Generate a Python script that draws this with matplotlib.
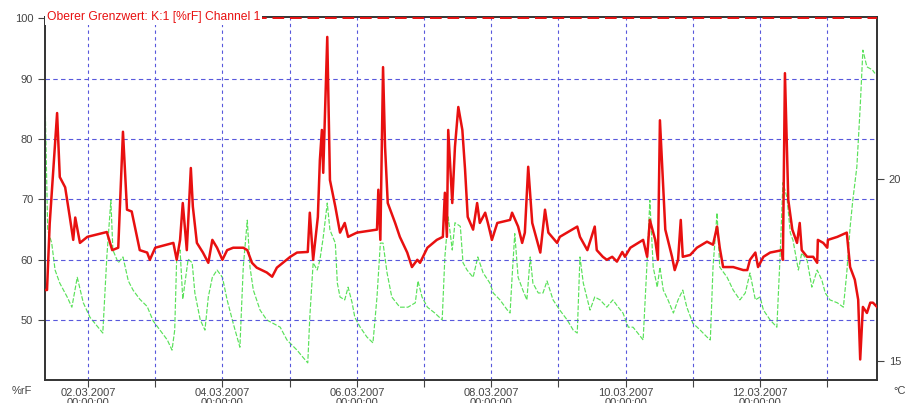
import matplotlib
matplotlib.use('Agg')
import matplotlib.pyplot as plt
import matplotlib.dates as mdates
import numpy as np
import pandas as pd

plt.rcParams['font.family'] = ['Liberation Sans', 'DejaVu Sans']
plt.rcParams['axes.grid'] = False

start = pd.Timestamp('2007-03-01')

# relative humidity, channel 1 (days since 01.03.2007, %rF)
rh_days = [0.36, 0.39, 0.43, 0.54, 0.58, 0.66, 0.73, 0.78, 0.81, 0.88, 0.99, 1.28,
           1.36, 1.45, 1.52, 1.58, 1.65, 1.77, 1.88, 1.92, 2.00, 2.27, 2.32, 2.37,
           2.41, 2.47, 2.53, 2.56, 2.62, 2.71, 2.79, 2.85, 2.92, 3.00, 3.07, 3.16,
           3.31, 3.37, 3.44, 3.51, 3.66, 3.74, 3.81, 3.90, 4.01, 4.11, 4.27, 4.30,
           4.35, 4.42, 4.45, 4.48, 4.50, 4.56, 4.60, 4.68, 4.75, 4.82, 4.87, 5.00,
           5.30, 5.32, 5.35, 5.39, 5.42, 5.46, 5.57, 5.64, 5.75, 5.82, 5.90, 5.94,
           6.05, 6.19, 6.28, 6.31, 6.34, 6.36, 6.42, 6.46, 6.51, 6.57, 6.61, 6.65,
           6.73, 6.79, 6.83, 6.91, 6.95, 7.01, 7.09, 7.28, 7.31, 7.40, 7.46, 7.50,
           7.55, 7.61, 7.73, 7.80, 7.85, 7.98, 8.02, 8.28, 8.32, 8.43, 8.54, 8.57,
           8.66, 8.72, 8.80, 8.87, 8.95, 8.99, 9.07, 9.26, 9.32, 9.36, 9.44, 9.48,
           9.51, 9.59, 9.69, 9.73, 9.78, 9.82, 9.85, 9.96, 10.06, 10.21, 10.30, 10.36,
           10.40, 10.45, 10.60, 10.75, 10.81, 10.85, 10.93, 10.97, 11.05, 11.15, 11.33, 11.34,
           11.37, 11.42, 11.48, 11.55, 11.59, 11.62, 11.70, 11.79, 11.85, 11.86, 11.94, 12.00,
           12.01, 12.15, 12.29, 12.34, 12.41, 12.46, 12.49, 12.53, 12.59, 12.64, 12.68, 12.74]
rh_vals = [55.0, 55.0, 66.0, 84.3, 73.7, 72.0, 67.0, 63.3, 67.0, 62.8, 63.8, 64.6,
           61.6, 62.0, 81.2, 68.3, 68.0, 61.6, 61.2, 60.0, 62.0, 62.8, 60.0, 63.3,
           69.4, 61.6, 75.2, 68.8, 62.8, 61.2, 59.5, 63.3, 62.0, 60.0, 61.6, 62.0,
           62.0, 61.6, 59.5, 58.7, 57.9, 57.2, 58.7, 59.5, 60.5, 61.2, 61.3, 67.8,
           60.0, 67.1, 76.5, 81.5, 74.4, 96.9, 73.2, 68.8, 64.5, 66.1, 63.8, 64.5,
           65.0, 71.6, 63.3, 91.9, 78.7, 69.4, 66.1, 63.8, 61.2, 58.8, 60.0, 59.5,
           62.0, 63.3, 63.8, 71.1, 63.8, 81.5, 69.4, 78.7, 85.3, 81.5, 75.0, 67.1,
           65.0, 69.4, 66.1, 67.8, 66.1, 63.3, 66.1, 66.6, 67.8, 65.5, 62.8, 64.5,
           75.4, 66.1, 61.2, 68.3, 64.5, 62.8, 63.8, 65.5, 63.8, 61.6, 65.5, 61.6,
           60.5, 60.0, 60.5, 59.7, 61.3, 60.5, 62.0, 63.3, 60.5, 66.6, 63.3, 60.0,
           83.1, 65.0, 60.5, 58.3, 60.0, 66.6, 60.5, 60.8, 62.0, 63.0, 62.5, 65.5,
           62.0, 58.8, 58.8, 58.3, 58.3, 60.0, 61.2, 58.8, 60.5, 61.2, 61.6, 60.0,
           90.9, 69.9, 65.0, 62.8, 66.1, 61.6, 60.5, 60.5, 59.5, 63.3, 62.8, 62.0,
           63.3, 63.8, 64.5, 58.8, 56.7, 53.4, 43.5, 52.2, 51.2, 52.9, 52.9, 52.2]

# temperature (days since 01.03.2007, degC)
t_days = [0.36, 0.40, 0.46, 0.51, 0.58, 0.69, 0.76, 0.84, 0.93, 1.03, 1.15, 1.22,
          1.28, 1.34, 1.37, 1.45, 1.52, 1.60, 1.67, 1.77, 1.88, 1.97, 2.07, 2.18,
          2.25, 2.29, 2.32, 2.37, 2.41, 2.49, 2.55, 2.59, 2.67, 2.74, 2.79, 2.85,
          2.92, 3.00, 3.07, 3.16, 3.26, 3.31, 3.37, 3.41, 3.46, 3.56, 3.66, 3.75,
          3.86, 3.96, 4.11, 4.20, 4.27, 4.30, 4.35, 4.41, 4.45, 4.50, 4.56, 4.60,
          4.68, 4.71, 4.75, 4.82, 4.87, 4.93, 4.97, 5.05, 5.15, 5.24, 5.30, 5.35,
          5.39, 5.45, 5.52, 5.64, 5.76, 5.87, 5.91, 5.97, 6.05, 6.16, 6.27, 6.31,
          6.36, 6.42, 6.46, 6.54, 6.58, 6.64, 6.73, 6.80, 6.88, 6.98, 7.03, 7.13,
          7.24, 7.28, 7.31, 7.35, 7.40, 7.47, 7.53, 7.58, 7.62, 7.70, 7.77, 7.83,
          7.92, 8.02, 8.13, 8.22, 8.28, 8.32, 8.37, 8.47, 8.54, 8.62, 8.72, 8.81,
          8.89, 8.96, 9.04, 9.11, 9.18, 9.26, 9.32, 9.36, 9.41, 9.47, 9.51, 9.56,
          9.63, 9.71, 9.78, 9.85, 9.91, 10.00, 10.11, 10.21, 10.26, 10.30, 10.36, 10.40,
          10.51, 10.60, 10.70, 10.78, 10.85, 10.93, 11.00, 11.05, 11.15, 11.25, 11.30, 11.34,
          11.40, 11.45, 11.49, 11.57, 11.62, 11.70, 11.77, 11.85, 11.92, 11.97, 12.04, 12.15,
          12.24, 12.29, 12.34, 12.38, 12.44, 12.49, 12.53, 12.59, 12.67, 12.71]
t_vals = [22.3, 18.6, 18.24, 17.5, 17.14, 16.76, 16.48, 17.3, 16.6, 16.2, 15.93, 15.77,
          17.86, 19.42, 18.05, 17.7, 17.86, 17.2, 16.95, 16.7, 16.5, 16.1, 15.85, 15.58,
          15.3, 15.85, 17.86, 18.05, 16.7, 17.8, 17.7, 16.87, 16.13, 15.85, 16.76, 17.3,
          17.5, 17.3, 16.68, 16.04, 15.38, 17.58, 18.87, 17.58, 16.95, 16.4, 16.13, 16.04,
          15.93, 15.58, 15.3, 15.1, 14.95, 16.2, 17.7, 17.5, 17.77, 18.4, 19.34, 18.6,
          18.24, 17.14, 16.76, 16.68, 17.03, 16.6, 16.2, 15.93, 15.66, 15.5, 16.76, 18.24,
          18.24, 17.42, 16.76, 16.48, 16.48, 16.6, 17.2, 16.76, 16.48, 16.32, 16.13, 17.86,
          18.96, 18.05, 18.8, 18.7, 17.7, 17.5, 17.3, 17.86, 17.42, 17.14, 16.87, 16.68,
          16.4, 16.32, 17.3, 18.5, 17.3, 16.95, 16.68, 17.86, 17.14, 16.87, 16.87, 17.2,
          16.68, 16.4, 16.13, 15.85, 15.77, 17.86, 17.14, 16.4, 16.76, 16.68, 16.48, 16.68,
          16.48, 16.32, 15.93, 15.93, 15.77, 15.58, 17.77, 19.42, 17.58, 17.03, 17.58, 16.95,
          16.68, 16.32, 16.68, 16.95, 16.48, 16.04, 15.85, 15.66, 15.58, 17.58, 19.07, 17.58,
          17.3, 16.95, 16.68, 16.87, 17.42, 16.68, 16.76, 16.4, 16.13, 15.93, 17.97, 19.9,
          19.5, 18.52, 18.32, 17.5, 17.97, 17.77, 17.03, 17.5, 17.22, 16.87, 16.68, 16.6,
          16.48, 17.42, 18.68, 19.42, 20.33, 21.98, 23.54, 23.08, 23.0, 22.9]

upper_limit = 100
grid_levels = [50, 60, 70, 80, 90]
title = 'Oberer Grenzwert: K:1 [%rF] Channel 1'

rh_time = start + pd.to_timedelta(rh_days, unit='D')
t_time = start + pd.to_timedelta(t_days, unit='D')

grid_color = '#5858dc'
fig = plt.figure(figsize=(9.06, 4.03), dpi=100)
ax = fig.add_axes([45 / 906, 1 - 380 / 403, 832 / 906, 363 / 403])
ax2 = ax.twinx()
ax2.grid(False)

ax2.plot(t_time, t_vals, color='#3ddc3d', lw=0.85, ls=(0, (4, 1.5)), alpha=0.85)
ax.plot(rh_time, rh_vals, color='#e81010', lw=1.8, zorder=3)
ax.axhline(upper_limit, color='#e81010', lw=1.4, ls=(0, (6, 3)), zorder=4)

ax.set_zorder(ax2.get_zorder() + 1)
ax.patch.set_visible(False)

ax.set_xlim(start + pd.Timedelta(days=0.36), start + pd.Timedelta(days=12.74))
ax.set_ylim(40.1, 100.2)
ax2.set_ylim(14.48, 24.45)

ax.set_yticks([50, 60, 70, 80, 90, 100])
ax2.set_yticks([15, 20])

ax.xaxis.set_major_locator(mdates.DayLocator(bymonthday=range(2, 32, 2)))
ax.xaxis.set_minor_locator(mdates.DayLocator())
ax.xaxis.set_major_formatter(mdates.DateFormatter('%d.%m.%Y\n%H:%M:%S'))

# dashed day lines and horizontal levels
ax.grid(True, which='both', axis='x', color=grid_color, ls=(0, (3, 3)), lw=0.8)
for v in grid_levels:
    ax.axhline(v, color=grid_color, ls=(0, (4, 3)), lw=0.8, zorder=0.5)

for a in (ax, ax2):
    a.tick_params(colors='#444444', labelsize=8, length=5, width=0.8)
    for s in a.spines.values():
        s.set_color('#333333')
        s.set_linewidth(1.2)
ax.tick_params(axis='x', which='minor', length=5, width=0.8, color='#444444')
ax.tick_params(axis='x', pad=1)
for lbl in ax.get_xticklabels():
    lbl.set_linespacing(1.0)

ax.text(0.002, 1.0, title, transform=ax.transAxes, color='#e81010', fontsize=8.7,
        va='center', ha='left', zorder=10,
        bbox=dict(facecolor='white', edgecolor='none', pad=1.5))

fig.text(12 / 906, 1 - 391 / 403, '%rF', color='#444444', fontsize=8, va='center')
fig.text(893 / 906, 1 - 391 / 403, '°C', color='#444444', fontsize=8, va='center')

fig.savefig('out.png', dpi=100)
